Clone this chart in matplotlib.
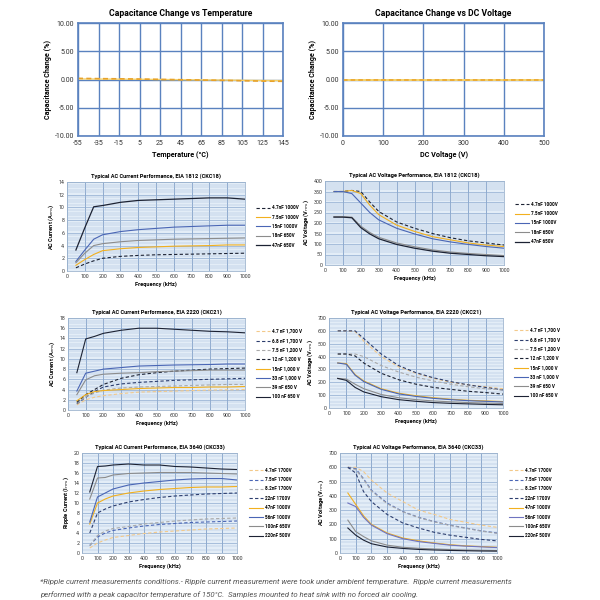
import matplotlib
matplotlib.use("Agg")
import matplotlib.pyplot as plt
from matplotlib.ticker import MultipleLocator
import numpy as np

plt.rcParams['font.family'] = ['Roboto', 'DejaVu Sans']
plt.rcParams['axes.unicode_minus'] = False

# ---------------- data ----------------
temps = [-55, -35, -15, 5, 25, 45, 65, 85, 105, 125, 145]
cap_temp_a = [0.20, 0.15, 0.12, 0.08, 0.02, -0.04, -0.10, -0.15, -0.22, -0.28, -0.32]
cap_temp_b = [0.10, 0.08, 0.06, 0.04, 0.0, -0.03, -0.07, -0.10, -0.14, -0.18, -0.20]

dcv = [0, 50, 100, 150, 200, 250, 300, 350, 400, 450, 500]
cap_dcv_a = [-0.10, -0.10, -0.10, -0.10, -0.10, -0.10, -0.10, -0.10, -0.10, -0.10, -0.10]
cap_dcv_b = [-0.05, -0.05, -0.05, -0.05, -0.05, -0.05, -0.05, -0.05, -0.05, -0.05, -0.05]

freq = [50, 100, 150, 200, 300, 400, 500, 600, 700, 800, 900, 1000]
freq_v = [50, 100, 150, 200, 250, 300, 400, 500, 600, 700, 800, 900, 1000]

# EIA 1812 current
i1812_labels = ["4.7nF 1000V", "7.5nF 1000V", "15nF 1000V", "18nF 650V", "47nF 650V"]
i1812_47 = [0.5, 1.1, 1.6, 2.0, 2.3, 2.45, 2.55, 2.6, 2.65, 2.7, 2.75, 2.8]
i1812_75 = [0.9, 1.8, 2.6, 3.2, 3.5, 3.7, 3.8, 3.9, 3.95, 4.0, 4.1, 4.1]
i1812_15 = [1.5, 3.3, 5.0, 5.7, 6.2, 6.5, 6.7, 6.9, 7.0, 7.1, 7.2, 7.2]
i1812_18 = [1.3, 2.8, 4.0, 4.3, 4.6, 4.8, 4.9, 5.0, 5.05, 5.1, 5.15, 5.2]
i1812_470 = [3.3, 6.8, 10.1, 10.3, 10.8, 11.1, 11.2, 11.3, 11.4, 11.5, 11.5, 11.3]

# EIA 1812 voltage
v1812_47 = [350, 350, 355, 350, 300, 255, 205, 175, 150, 130, 115, 105, 95]
v1812_75 = [350, 350, 355, 340, 285, 240, 190, 160, 135, 120, 105, 95, 88]
v1812_15 = [350, 350, 340, 295, 250, 215, 175, 148, 125, 110, 98, 88, 80]
v1812_18 = [230, 230, 228, 185, 155, 132, 105, 87, 72, 62, 55, 50, 45]
v1812_470 = [228, 228, 225, 178, 148, 125, 98, 80, 66, 56, 50, 44, 40]

# EIA 2220 current
i2220_labels = ["4.7 nF 1,700 V", "6.8 nF 1,700 V", "7.5 nF 1,200 V", "12 nF 1,200 V",
                "15nF 1,000 V", "33 nF 1,000 V", "39 nF 650 V", "100 nF 650 V"]
i2220_47 = [1.0, 2.0, 2.5, 2.8, 3.2, 3.5, 3.6, 3.7, 3.8, 3.9, 3.95, 4.0]
i2220_68 = [1.2, 2.5, 3.6, 4.5, 5.1, 5.4, 5.6, 5.8, 5.9, 6.0, 6.1, 6.2]
i2220_75 = [1.3, 2.6, 3.3, 3.9, 4.3, 4.5, 4.6, 4.7, 4.8, 4.9, 5.0, 5.0]
i2220_12 = [1.5, 3.0, 4.0, 5.0, 6.2, 6.9, 7.3, 7.6, 7.8, 8.0, 8.1, 8.2]
i2220_15 = [1.8, 3.0, 3.6, 3.8, 4.0, 4.2, 4.3, 4.4, 4.4, 4.5, 4.5, 4.6]
i2220_33 = [3.7, 7.2, 7.6, 8.0, 8.3, 8.6, 8.7, 8.8, 8.85, 8.9, 9.0, 9.0]
i2220_39 = [3.0, 5.9, 6.7, 7.0, 7.2, 7.3, 7.5, 7.6, 7.7, 7.8, 7.8, 7.8]
i2220_100 = [7.3, 13.9, 14.4, 15.0, 15.6, 16.0, 16.0, 15.8, 15.6, 15.4, 15.3, 15.1]

# EIA 2220 voltage
v2220_47 = [600, 600, 595, 520, 400, 320, 270, 230, 200, 180, 165, 150]
v2220_68 = [600, 600, 600, 540, 420, 330, 275, 235, 205, 180, 160, 140]
v2220_75 = [420, 420, 420, 400, 330, 280, 240, 210, 185, 165, 150, 140]
v2220_12 = [420, 420, 405, 350, 270, 220, 185, 160, 145, 130, 120, 108]
v2220_15 = [350, 345, 260, 210, 150, 115, 95, 80, 68, 60, 55, 50]
v2220_33 = [350, 340, 255, 205, 145, 110, 90, 75, 65, 57, 52, 47]
v2220_39 = [230, 225, 185, 150, 105, 80, 65, 55, 48, 42, 38, 35]
v2220_100 = [230, 215, 160, 125, 88, 65, 52, 42, 36, 32, 28, 25]

# EIA 3640 current
i3640_labels = ["4.7nF 1700V", "7.5nF 1700V", "8.2nF 1700V", "22nF 1700V",
                "47nF 1000V", "56nF 1000V", "100nF 650V", "220nF 500V"]
i3640_47 = [1.0, 2.0, 2.6, 3.1, 3.5, 3.9, 4.2, 4.4, 4.6, 4.8, 4.9, 5.0]
i3640_75 = [1.5, 3.2, 4.0, 4.5, 5.0, 5.4, 5.7, 5.9, 6.1, 6.2, 6.3, 6.4]
i3640_82 = [1.5, 3.5, 4.4, 4.9, 5.3, 5.8, 6.1, 6.4, 6.6, 6.8, 6.9, 7.0]
i3640_22 = [4.0, 8.0, 8.8, 9.4, 10.2, 10.7, 11.1, 11.4, 11.6, 11.8, 11.9, 12.0]
i3640_470 = [5.8, 10.0, 10.8, 11.4, 12.0, 12.4, 12.7, 12.9, 13.1, 13.2, 13.2, 13.3]
i3640_56 = [6.2, 11.2, 12.0, 12.8, 13.6, 14.0, 14.3, 14.6, 14.8, 14.9, 14.9, 14.6]
i3640_100 = [10.8, 15.0, 15.1, 15.6, 15.9, 16.0, 16.1, 16.1, 16.1, 16.0, 15.9, 15.8]
i3640_220 = [12.2, 17.3, 17.4, 17.6, 17.8, 17.6, 17.6, 17.3, 17.2, 17.0, 16.8, 16.7]

# EIA 3640 voltage
v3640_47 = [600, 600, 570, 510, 420, 360, 300, 270, 235, 215, 195, 180]
v3640_75 = [600, 590, 520, 440, 350, 290, 250, 220, 195, 175, 155, 140]
v3640_82 = [595, 585, 515, 435, 345, 288, 248, 218, 193, 173, 153, 138]
v3640_22 = [600, 560, 430, 360, 270, 210, 175, 145, 125, 110, 95, 85]
v3640_470 = [420, 340, 260, 200, 140, 105, 85, 70, 58, 50, 45, 40]
v3640_56 = [350, 325, 250, 195, 135, 100, 80, 67, 55, 48, 43, 38]
v3640_100 = [230, 150, 115, 85, 55, 40, 33, 28, 24, 21, 19, 17]
v3640_220 = [175, 125, 90, 65, 42, 32, 25, 21, 18, 16, 14, 13]

# ---------------- styles ----------------
GOLD = '#f2b01e'
LORANGE = '#f3c98a'
BLUE = '#4a66b5'
GRAY = '#8c8c8c'
DARK = '#1c2233'
NAVY = '#2d3e6e'
LGRAY = '#a9a9a9'

fig = plt.figure(figsize=(6, 6), dpi=100)
fig.patch.set_facecolor('white')


def pax(x0, y0, x1, y1):
    return fig.add_axes([x0 / 600, 1 - y1 / 600, (x1 - x0) / 600, (y1 - y0) / 600])


def top_panel(ax, title, xlabel, xlim, xticks):
    gc = '#5a82bf'
    ax.set_xlim(*xlim)
    ax.set_ylim(-10, 10)
    ax.set_xticks(xticks)
    ax.set_yticks([-10, -5, 0, 5, 10])
    ax.set_yticklabels(['-10.00', '-5.00', '0.00', '5.00', '10.00'])
    ax.grid(True, color=gc, linewidth=1.0)
    for s in ax.spines.values():
        s.set_color(gc)
        s.set_linewidth(1.2)
    ax.tick_params(length=0, labelsize=5, colors='#333333', pad=3)
    ax.set_title(title, fontsize=6.2, fontweight='bold', pad=5)
    ax.set_xlabel(xlabel, fontsize=5.2, fontweight='bold', labelpad=3)
    ax.set_ylabel('Capacitance Change (%)', fontsize=5.2, fontweight='bold', labelpad=2)
    ax.set_axisbelow(True)


def low_panel(ax, title, ylabel, ymax, ystep, nminor):
    ax.set_facecolor('#e3edf7')
    ax.set_xlim(0, 1000)
    ax.set_ylim(0, ymax)
    ax.xaxis.set_major_locator(MultipleLocator(100))
    ax.yaxis.set_major_locator(MultipleLocator(ystep))
    ax.yaxis.set_minor_locator(MultipleLocator(ystep / nminor))
    ax.grid(True, which='major', axis='x', color='#7f9fc6', linewidth=0.6)
    ax.grid(True, which='major', axis='y', color='#8eaad0', linewidth=0.5)
    ax.grid(True, which='minor', axis='y', color='#a9bfdb', linewidth=0.35)
    for s in ax.spines.values():
        s.set_color('#9db4cf')
        s.set_linewidth(0.6)
    ax.tick_params(which='both', length=0, labelsize=3.8, colors='#333333', pad=2)
    ax.set_title(title, fontsize=4.1, fontweight='bold', pad=3)
    ax.set_xlabel('Frequency (kHz)', fontsize=4.1, fontweight='bold', labelpad=2)
    ax.set_ylabel(ylabel, fontsize=4.1, fontweight='bold', labelpad=2)
    ax.set_axisbelow(True)


def add_legend(ax, x_off=1.04):
    ax.legend(loc='center left', bbox_to_anchor=(x_off, 0.5), frameon=False,
              handlelength=3.0, labelspacing=0.95, handletextpad=0.5,
              prop={'weight': 'bold', 'size': 3.3})


# ---- panel 1
ax1 = pax(78, 23, 283, 136)
top_panel(ax1, 'Capacitance Change vs Temperature', 'Temperature (°C)', (-55, 145), temps)
ax1.plot(temps, cap_temp_b, color='#f6d36b', lw=1.0)
ax1.plot(temps, cap_temp_a, color='#e8a22a', lw=1.2, ls=(0, (3, 2)))

# ---- panel 2
ax2 = pax(343, 23, 544, 136)
top_panel(ax2, 'Capacitance Change vs DC Voltage', 'DC Voltage (V)', (0, 500), [0, 100, 200, 300, 400, 500])
ax2.plot(dcv, cap_dcv_b, color='#f6d36b', lw=1.4)
ax2.plot(dcv, cap_dcv_a, color='#e8a22a', lw=1.1, ls=(0, (3, 2)))

# ---- panel 3: 1812 current
ax3 = pax(67, 182, 245, 271)
low_panel(ax3, 'Typical AC Current Performance, EIA 1812 (CKC18)', 'AC Current (A$_{rms}$)', 14, 2, 5)
ax3.plot(freq, i1812_47, color=DARK, lw=0.8, ls=(0, (3, 2)), label=i1812_labels[0])
ax3.plot(freq, i1812_75, color=GOLD, lw=0.8, label=i1812_labels[1])
ax3.plot(freq, i1812_15, color=BLUE, lw=0.8, label=i1812_labels[2])
ax3.plot(freq, i1812_18, color=GRAY, lw=0.8, label=i1812_labels[3])
ax3.plot(freq, i1812_470, color=DARK, lw=0.9, label=i1812_labels[4])
add_legend(ax3)

# ---- panel 4: 1812 voltage
ax4 = pax(325, 181, 504, 265)
low_panel(ax4, 'Typical AC Voltage Performance, EIA 1812 (CKC18)', 'AC Voltage (V$_{rms}$)', 400, 50, 5)
ax4.plot(freq_v, v1812_47, color=DARK, lw=0.8, ls=(0, (3, 2)), label=i1812_labels[0])
ax4.plot(freq_v, v1812_75, color=GOLD, lw=0.8, label=i1812_labels[1])
ax4.plot(freq_v, v1812_15, color=BLUE, lw=0.8, label=i1812_labels[2])
ax4.plot(freq_v, v1812_18, color=GRAY, lw=0.8, label=i1812_labels[3])
ax4.plot(freq_v, v1812_470, color=DARK, lw=0.9, label=i1812_labels[4])
add_legend(ax4)

# ---- panel 5: 2220 current
ax5 = pax(68, 318, 245, 410)
low_panel(ax5, 'Typical AC Current Performance, EIA 2220 (CKC21)', 'AC Current (A$_{rms}$)', 18, 2, 4)
series5 = [(i2220_47, LORANGE, (0, (3, 2))), (i2220_68, NAVY, (0, (3, 2))),
           (i2220_75, LGRAY, (0, (3, 2))), (i2220_12, DARK, (0, (3, 2))),
           (i2220_15, GOLD, '-'), (i2220_33, BLUE, '-'), (i2220_39, GRAY, '-'), (i2220_100, DARK, '-')]
for (ys, c, ls), lab in zip(series5, i2220_labels):
    ax5.plot(freq, ys, color=c, lw=0.8, ls=ls, label=lab)
add_legend(ax5)

# ---- panel 6: 2220 voltage
ax6 = pax(329, 318, 503, 408)
low_panel(ax6, 'Typical AC Voltage Performance, EIA 2220 (CKC21)', 'AC Voltage (V$_{rms}$)', 700, 100, 4)
series6 = [(v2220_47, LORANGE, (0, (3, 2))), (v2220_68, NAVY, (0, (3, 2))),
           (v2220_75, LGRAY, (0, (3, 2))), (v2220_12, DARK, (0, (3, 2))),
           (v2220_15, GOLD, '-'), (v2220_33, BLUE, '-'), (v2220_39, GRAY, '-'), (v2220_100, DARK, '-')]
for (ys, c, ls), lab in zip(series6, i2220_labels):
    ax6.plot(freq, ys, color=c, lw=0.8, ls=ls, label=lab)
add_legend(ax6)

# ---- panel 7: 3640 current
ax7 = pax(82, 453, 237, 553)
low_panel(ax7, 'Typical AC Current Performance, EIA 3640 (CKC33)', 'Ripple Current (I$_{rms}$)', 20, 2, 3)
series7 = [(i3640_47, LORANGE, (0, (3, 2))), (i3640_75, BLUE, (0, (3, 2))),
           (i3640_82, LGRAY, (0, (3, 2))), (i3640_22, NAVY, (0, (3, 2))),
           (i3640_470, GOLD, '-'), (i3640_56, BLUE, '-'), (i3640_100, GRAY, '-'), (i3640_220, DARK, '-')]
for (ys, c, ls), lab in zip(series7, i3640_labels):
    ax7.plot(freq, ys, color=c, lw=0.8, ls=ls, label=lab)
add_legend(ax7, 1.05)

# ---- panel 8: 3640 voltage
ax8 = pax(340, 453, 497, 553)
low_panel(ax8, 'Typical AC Voltage Performance, EIA 3640 (CKC33)', 'AC Voltage (V$_{rms}$)', 700, 100, 4)
series8 = [(v3640_47, LORANGE, (0, (3, 2))), (v3640_75, BLUE, (0, (3, 2))),
           (v3640_82, LGRAY, (0, (3, 2))), (v3640_22, NAVY, (0, (3, 2))),
           (v3640_470, GOLD, '-'), (v3640_56, '#6f74c0', '-'), (v3640_100, GRAY, '-'), (v3640_220, DARK, '-')]
for (ys, c, ls), lab in zip(series8, i3640_labels):
    ax8.plot(freq, ys, color=c, lw=0.8, ls=ls, label=lab)
add_legend(ax8, 1.05)

# ---- footnote
fig.text(40 / 600, 1 - 582 / 600,
         "*Ripple current measurements conditions.- Ripple current measurement were took under ambient temperature.  Ripple current measurements",
         fontsize=5.6, style='italic', color='#555555', va='center')
fig.text(40 / 600, 1 - 595 / 600,
         "performed with a peak capacitor temperature of 150°C.  Samples mounted to heat sink with no forced air cooling.",
         fontsize=5.6, style='italic', color='#555555', va='center')

fig.savefig('out.png', dpi=100, facecolor='white')
